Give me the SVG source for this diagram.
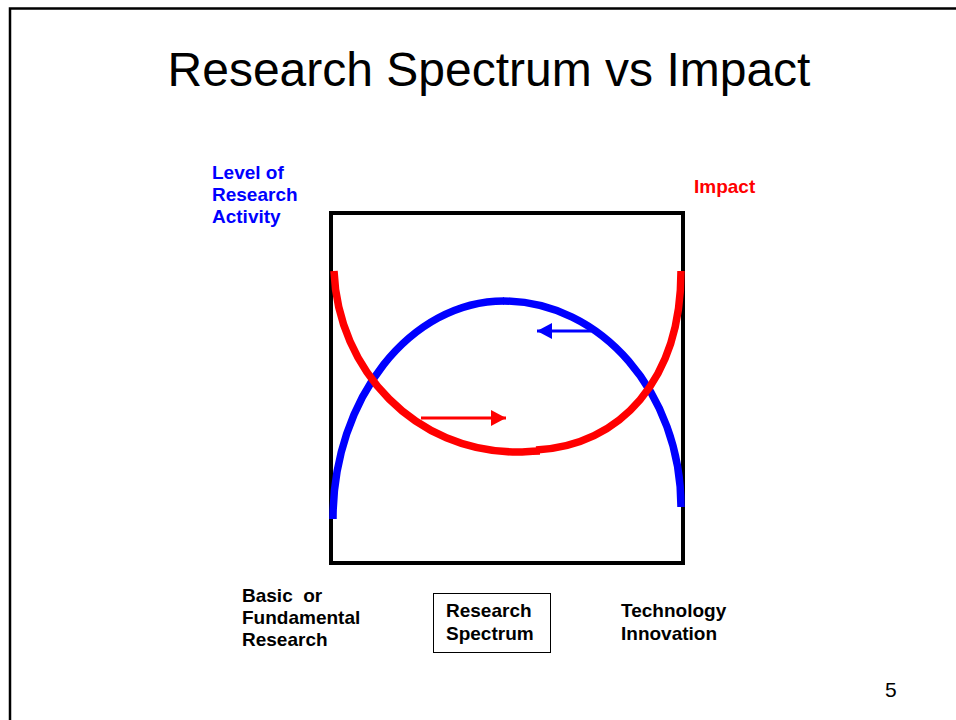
<svg xmlns="http://www.w3.org/2000/svg" width="956" height="720" viewBox="0 0 956 720">
  <style>
    .lbl { font-family: "Liberation Sans", Arial, sans-serif; font-weight: bold; font-size: 19px; fill: #000; }
    .blue { fill: #0000ff; }
    .red { fill: #ff0000; }
    .curve { fill: none; stroke-width: 7.5; }
  </style>
  <defs>
    <marker id="headRed" markerWidth="16" markerHeight="16" refX="15" refY="8" orient="auto" markerUnits="userSpaceOnUse">
      <path d="M0,0 L15,8 L0,16 Z" fill="#ff0000"/>
    </marker>
    <marker id="headBlue" markerWidth="16" markerHeight="16" refX="15" refY="8" orient="auto" markerUnits="userSpaceOnUse">
      <path d="M0,0 L15,8 L0,16 Z" fill="#0000ff"/>
    </marker>
  </defs>
  <rect width="956" height="720" fill="#fff"/>

  <!-- slide frame -->
  <path d="M10,720 V8.5 H956" fill="none" stroke="#000" stroke-width="2.5"/>

  <!-- title -->
  <text x="489" y="86" text-anchor="middle" font-family="'Liberation Sans', Arial, sans-serif" font-size="48">Research Spectrum vs Impact</text>

  <!-- axis labels -->
  <g id="activity-label">
    <text class="lbl blue" x="212" y="179">Level of</text>
    <text class="lbl blue" x="212" y="201">Research</text>
    <text class="lbl blue" x="212" y="223">Activity</text>
  </g>
  <g id="impact-label">
    <text class="lbl red" x="694" y="193">Impact</text>
  </g>

  <!-- plot frame -->
  <g id="plot-box">
    <rect x="331" y="213" width="352" height="350" fill="none" stroke="#000" stroke-width="4"/>
  </g>

  <g id="connectors">
    <!-- research activity curve -->
    <path class="curve" stroke="#0000ff" d="M333,519 C333,398 411,301 504,301"/>
    <path class="curve" stroke="#0000ff" d="M503,301 C601,301 681,393 681,507"/>
    <!-- impact curve -->
    <path class="curve" stroke="#ff0000" d="M334,271 C338,371 416,452 517,452 C525,452 533,451 540,451"/>
    <path class="curve" stroke="#ff0000" d="M536,450 C620,446 681,380 681,271"/>
    <!-- direction arrows -->
    <line x1="421" y1="418" x2="506" y2="418" stroke="#ff0000" stroke-width="3" marker-end="url(#headRed)"/>
    <line x1="591" y1="331" x2="537" y2="331" stroke="#0000ff" stroke-width="3" marker-end="url(#headBlue)"/>
  </g>

  <!-- spectrum labels -->
  <g id="basic-label">
    <text class="lbl" x="242" y="602" xml:space="preserve">Basic  or</text>
    <text class="lbl" x="242" y="624">Fundamental</text>
    <text class="lbl" x="242" y="646">Research</text>
  </g>
  <g id="spectrum-box">
    <rect x="433.5" y="593.5" width="117" height="59" fill="#fff" stroke="#000" stroke-width="1"/>
    <text class="lbl" x="446" y="617">Research</text>
    <text class="lbl" x="446" y="640">Spectrum</text>
  </g>
  <g id="technology-label">
    <text class="lbl" x="621" y="617">Technology</text>
    <text class="lbl" x="621" y="640">Innovation</text>
  </g>

  <!-- page number -->
  <text x="885" y="697" font-family="'Liberation Sans', Arial, sans-serif" font-size="21">5</text>
</svg>
